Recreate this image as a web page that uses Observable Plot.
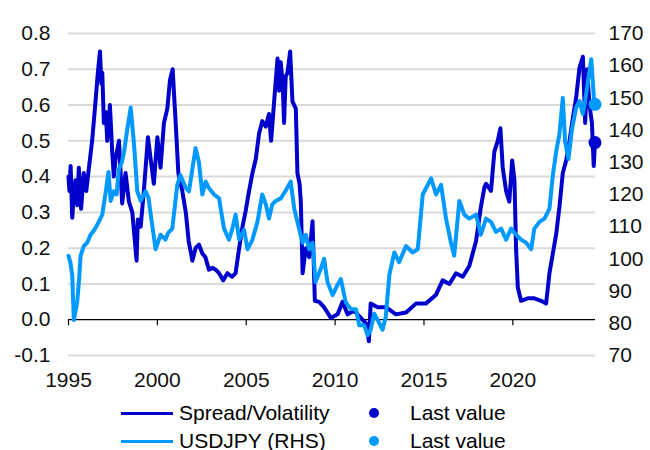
<!DOCTYPE html>
<html><head><meta charset="utf-8">
<script src="https://cdn.jsdelivr.net/npm/d3@7"></script>
<script src="https://cdn.jsdelivr.net/npm/@observablehq/plot@0.6"></script>
<style>
body{margin:0;background:#fff;font-family:"Liberation Sans",Arial,sans-serif;}
#wrap{position:relative;width:650px;height:450px;overflow:hidden;background:#fff;}
#title{position:absolute;left:0;top:-18px;font-weight:bold;font-size:23px;line-height:23px;white-space:nowrap;color:#000;}
#chart{position:absolute;left:0;top:0;}
.lg{position:absolute;font-size:21px;line-height:24px;color:#000;white-space:nowrap;}
.sw{position:absolute;height:3px;}
.dt{position:absolute;border-radius:50%;}
</style>
</head><body>
<div id="wrap">
  <div id="title">Figure 6: Rate differential/volatility</div>
  <div id="chart"></div>
  <div id="legend"></div>
</div>
<script>
// ---- data ----
const spreadT = [1995.00,1995.05,1995.12,1995.21,1995.30,1995.39,1995.50,1995.58,1995.71,1995.86,1996.00,1996.15,1996.33,1996.52,1996.65,1996.77,1996.85,1996.90,1996.99,1997.10,1997.18,1997.33,1997.46,1997.55,1997.65,1997.84,1998.02,1998.21,1998.40,1998.59,1998.83,1998.90,1999.06,1999.24,1999.47,1999.62,1999.80,2000.00,2000.18,2000.37,2000.56,2000.71,2000.86,2001.03,2001.18,2001.40,2001.60,2001.76,2001.97,2002.15,2002.34,2002.53,2002.70,2002.90,2003.10,2003.28,2003.47,2003.70,2003.94,2004.20,2004.40,2004.60,2004.79,2004.97,2005.16,2005.35,2005.54,2005.72,2005.90,2006.10,2006.28,2006.40,2006.57,2006.76,2006.85,2006.94,2007.05,2007.13,2007.22,2007.32,2007.47,2007.60,2007.79,2007.88,2008.00,2008.07,2008.17,2008.35,2008.54,2008.73,2008.86,2009.10,2009.38,2009.76,2010.14,2010.42,2010.70,2011.07,2011.45,2011.73,2011.90,2012.00,2012.40,2012.86,2013.42,2013.99,2014.55,2015.10,2015.68,2016.05,2016.43,2016.80,2017.18,2017.55,2017.93,2018.20,2018.40,2018.49,2018.77,2018.96,2019.15,2019.30,2019.43,2019.62,2019.80,2019.96,2020.09,2020.18,2020.28,2020.46,2020.84,2021.21,2021.59,2021.87,2022.06,2022.25,2022.44,2022.62,2022.81,2023.00,2023.19,2023.38,2023.56,2023.75,2023.94,2024.07,2024.18,2024.31,2024.45,2024.55,2024.62];
const spreadV = [0.40,0.36,0.43,0.285,0.35,0.39,0.32,0.425,0.31,0.41,0.36,0.425,0.50,0.61,0.69,0.75,0.66,0.69,0.55,0.58,0.50,0.60,0.47,0.40,0.45,0.50,0.325,0.41,0.33,0.30,0.165,0.28,0.26,0.36,0.51,0.45,0.38,0.51,0.425,0.55,0.59,0.67,0.70,0.55,0.41,0.36,0.30,0.22,0.165,0.20,0.21,0.185,0.175,0.14,0.145,0.14,0.13,0.11,0.13,0.12,0.13,0.20,0.26,0.305,0.36,0.41,0.45,0.52,0.555,0.54,0.575,0.50,0.61,0.73,0.64,0.72,0.66,0.55,0.68,0.69,0.75,0.61,0.59,0.41,0.38,0.33,0.13,0.20,0.175,0.275,0.053,0.05,0.035,0.005,0.015,0.05,0.015,0.025,0.005,-0.01,-0.06,0.045,0.035,0.035,0.015,0.02,0.045,0.045,0.07,0.11,0.10,0.13,0.12,0.15,0.22,0.315,0.37,0.38,0.36,0.47,0.50,0.535,0.425,0.36,0.33,0.445,0.39,0.20,0.09,0.053,0.06,0.06,0.053,0.045,0.13,0.185,0.24,0.315,0.41,0.445,0.50,0.565,0.62,0.705,0.735,0.55,0.70,0.60,0.55,0.43,0.495];

const usdjpyT = [1995.00,1995.10,1995.21,1995.30,1995.40,1995.49,1995.60,1995.68,1995.86,1996.05,1996.24,1996.45,1996.62,1996.90,1997.10,1997.25,1997.37,1997.55,1997.70,1997.84,1998.00,1998.12,1998.30,1998.50,1998.68,1998.87,1999.06,1999.34,1999.50,1999.62,1999.90,2000.18,2000.46,2000.60,2000.84,2001.12,2001.30,2001.60,2001.78,2001.97,2002.15,2002.34,2002.53,2002.72,2002.90,2003.19,2003.47,2003.75,2004.03,2004.22,2004.40,2004.60,2004.88,2005.07,2005.35,2005.63,2005.90,2006.10,2006.28,2006.47,2006.66,2006.94,2007.20,2007.50,2007.70,2007.97,2008.17,2008.35,2008.54,2008.73,2008.90,2009.20,2009.38,2009.57,2009.86,2010.14,2010.32,2010.60,2010.89,2011.17,2011.36,2011.64,2011.83,2012.00,2012.20,2012.40,2012.67,2012.85,2013.05,2013.33,2013.60,2013.99,2014.36,2014.65,2014.93,2015.40,2015.68,2015.96,2016.24,2016.52,2016.70,2016.99,2017.27,2017.55,2017.93,2018.20,2018.49,2018.77,2019.05,2019.34,2019.62,2019.90,2020.18,2020.46,2020.75,2021.03,2021.21,2021.50,2021.78,2022.06,2022.25,2022.44,2022.62,2022.81,2022.94,2023.13,2023.32,2023.56,2023.75,2023.94,2024.07,2024.22,2024.41,2024.50,2024.56,2024.62];
const usdjpyV = [101,99,95,81,84,86.5,94,101,104,105,107.5,109,110.6,113.75,121,127,118,121,120,128,130,133,140,147,136,121,118,121,119,114,103,107.5,106,108,109.4,123,126,122,121,128,134.4,130,120,124,122,120,118.8,109.4,106,109.4,113.75,106,109,103,106,111.5,120,117,112.5,117,118,118.8,121,124,115.6,109.4,105,107.5,103,105,92.8,97,100,92.8,88.75,92,93.75,86.5,84.4,84.4,79.4,79.4,76.25,78,83,81,78,82,95,102,99,104,102,103,120,125,120,123,112.5,105,101,118,113.75,112.5,113.75,107.5,112.5,111.5,108.4,109.4,106,109.4,107.5,106,105,103,109.4,111.5,112.5,115.6,126,133.4,138.75,150,136.5,131,140,147,149,145,149,155,162,155,150,148];

const xTicks = [1995, 2000, 2005, 2010, 2015, 2020];
const leftTicks = [-0.1, 0, 0.1, 0.2, 0.3, 0.4, 0.5, 0.6, 0.7, 0.8];
const rightTicks = [70, 80, 90, 100, 110, 120, 130, 140, 150, 160, 170];
const seriesNames = ["Spread/Volatility", "USDJPY (RHS)"];
const lastLabel = "Last value";
const colors = ["#0000cc", "#0099ff"];

// ---- helpers ----
const L0 = -0.1, L1 = 0.8, R0 = 70, R1 = 170;
const toLeft = v => L0 + (v - R0) / (R1 - R0) * (L1 - L0);
const fromLeft = u => R0 + (u - L0) / (L1 - L0) * (R1 - R0);

const spread = spreadT.map((t, i) => ({t, v: spreadV[i]}));
const usdjpy = usdjpyT.map((t, i) => ({t, v: usdjpyV[i]}));

const chart = Plot.plot({
  width: 650, height: 395,
  marginTop: 33, marginBottom: 40, marginLeft: 68, marginRight: 55,
  x: {domain: [1995, 2024.65], label: null},
  y: {domain: [L0, L1], label: null},
  style: {fontFamily: "'Liberation Sans', Arial, sans-serif", fontSize: "21px", color: "#000", background: "#fff", overflow: "visible"},
  marks: [
    Plot.ruleY(leftTicks.filter(d => d !== 0), {stroke: "#d9d9d9", strokeWidth: 2}),
    Plot.ruleY([0], {stroke: "#000", strokeWidth: 1.2}),
    Plot.ruleX(xTicks, {x: d => d, y1: 0, y2: 0, insetBottom: -6, stroke: "#000", strokeWidth: 1.2}),
    Plot.axisY({anchor: "left", label: null, ticks: leftTicks, tickSize: 0, tickPadding: 18, tickFormat: d => d.toFixed(1), fill: "#111"}),
    Plot.axisY({anchor: "right", label: null, ticks: rightTicks.map(toLeft), tickSize: 0, tickPadding: 13, tickFormat: d => String(Math.round(fromLeft(d))), fill: "#111"}),
    Plot.axisX({anchor: "bottom", label: null, ticks: xTicks, tickSize: 0, tickPadding: 17, tickFormat: d => String(d), fill: "#111"}),
    Plot.lineY(spread, {x: "t", y: "v", stroke: colors[0], strokeWidth: 4, strokeLinejoin: "round"}),
    Plot.lineY(usdjpy, {x: "t", y: d => toLeft(d.v), stroke: colors[1], strokeWidth: 4, strokeLinejoin: "round"}),
    Plot.dot(spread.slice(-1), {x: "t", y: "v", r: 6.5, fill: colors[0]}),
    Plot.dot(usdjpy.slice(-1), {x: "t", y: d => toLeft(d.v), r: 6.5, fill: colors[1]})
  ]
});
document.getElementById("chart").appendChild(chart);

// ---- legend ----
const lg = document.getElementById("legend");
const rows = [413, 441];
seriesNames.forEach((name, i) => {
  const cy = rows[i];
  const sw = document.createElement("div");
  sw.className = "sw";
  Object.assign(sw.style, {left: "121px", top: (cy - 1.5) + "px", width: "52px", background: colors[i]});
  lg.appendChild(sw);
  const tx = document.createElement("div");
  tx.className = "lg";
  tx.textContent = name;
  Object.assign(tx.style, {left: "179px", top: (cy - 12) + "px"});
  lg.appendChild(tx);
  const dt = document.createElement("div");
  dt.className = "dt";
  Object.assign(dt.style, {left: (374 - 5) + "px", top: (cy - 5) + "px", width: "10px", height: "10px", background: colors[i]});
  lg.appendChild(dt);
  const t2 = document.createElement("div");
  t2.className = "lg";
  t2.textContent = lastLabel;
  Object.assign(t2.style, {left: "410px", top: (cy - 12) + "px"});
  lg.appendChild(t2);
});
</script>
</body></html>
